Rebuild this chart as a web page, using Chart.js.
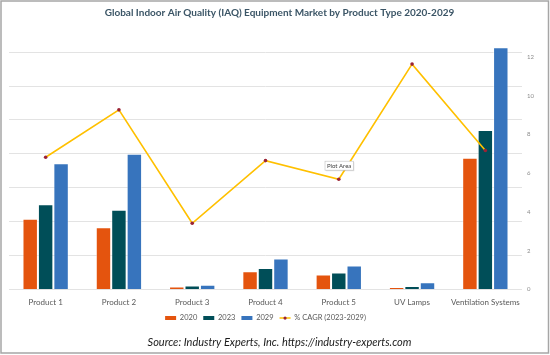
<!DOCTYPE html>
<html>
<head>
<meta charset="utf-8">
<script src="https://cdn.jsdelivr.net/npm/chart.js@4/dist/chart.umd.min.js"></script>
<style>
html,body{margin:0;padding:0;background:#fff;}
#wrap{width:550px;height:355px;position:relative;}
</style>
</head>
<body>
<div id="wrap"><canvas id="c" width="550" height="355"></canvas></div>
<script>
const categories = ["Product 1","Product 2","Product 3","Product 4","Product 5","UV Lamps","Ventilation Systems"];
const values2020 = [3.65, 3.2, 0.15, 0.93, 0.77, 0.12, 6.8];
const values2023 = [4.39, 4.11, 0.19, 1.1, 0.87, 0.17, 8.23];
const values2029 = [6.51, 7.0, 0.24, 1.59, 1.23, 0.36, 12.5];
const cagr = [7.8, 10.6, 3.9, 7.6, 6.5, 13.3, 8.2];
const rightTicks = [0, 2, 4, 6, 8, 10, 12];
const leftTicks = [0, 2, 4, 6, 8, 10, 12, 14];

const FONT = "Lato, 'Open Sans', sans-serif";

const framePlugin = {
  id: 'frame',
  beforeDraw(chart) {
    const ctx = chart.ctx;
    ctx.save();
    ctx.fillStyle = '#fff';
    ctx.fillRect(0, 0, chart.width, chart.height);
    ctx.restore();
  },
  afterDraw(chart) {
    const ctx = chart.ctx;
    ctx.save();
    ctx.strokeStyle = '#A6A6A6';
    ctx.lineWidth = 1.5;
    ctx.strokeRect(1, 1, chart.width - 2.5, chart.height - 3);
    // legend marker dot on the line item
    const lg = chart.legend;
    if (lg && lg.legendHitBoxes && lg.legendHitBoxes[3]) {
      const hb = lg.legendHitBoxes[3];
      const w = lg.options.labels.pointStyleWidth || 11;
      ctx.fillStyle = '#9B2335';
      ctx.beginPath();
      ctx.arc(hb.left + w / 2, hb.top + hb.height / 2, 1.6, 0, Math.PI * 2);
      ctx.fill();
    }
    // Excel "Plot Area" hover tag
    const ca = chart.chartArea;
    const tx = ca.left + (ca.right - ca.left) * 0.616, ty = ca.top + (ca.bottom - ca.top) * 0.494;
    ctx.font = "6px " + FONT;
    const tw = ctx.measureText('Plot Area').width + 4;
    ctx.fillStyle = 'rgba(0,0,0,0.12)';
    ctx.fillRect(tx + 1, ty - 4, tw, 9);
    ctx.fillStyle = '#fff';
    ctx.fillRect(tx, ty - 5, tw, 9);
    ctx.strokeStyle = '#BFBFBF';
    ctx.lineWidth = 0.6;
    ctx.strokeRect(tx, ty - 5, tw, 9);
    ctx.fillStyle = '#404040';
    ctx.textBaseline = 'middle';
    ctx.fillText('Plot Area', tx + 2, ty - 0.5);
    ctx.restore();
  }
};

new Chart(document.getElementById('c'), {
  type: 'bar',
  data: {
    labels: categories,
    datasets: [
      { label: '2020', data: values2020, backgroundColor: '#E4540E', borderColor: 'rgba(255,255,255,0.45)', borderWidth: 1, yAxisID: 'y1', order: 1 },
      { label: '2023', data: values2023, backgroundColor: '#004E58', borderColor: 'rgba(255,255,255,0.45)', borderWidth: 1, yAxisID: 'y1', order: 1 },
      { label: '2029', data: values2029, backgroundColor: '#3774BD', borderColor: 'rgba(255,255,255,0.45)', borderWidth: 1, yAxisID: 'y1', order: 1 },
      { type: 'line', label: '% CAGR (2023-2029)', data: cagr, borderColor: '#FFC000', backgroundColor: '#FFC000', borderWidth: 1.6,
        pointRadius: 1.8, pointBackgroundColor: '#9B2335', pointBorderColor: '#9B2335', pointBorderWidth: 0,
        pointStyle: 'circle', tension: 0, yAxisID: 'y', order: 0 }
    ]
  },
  options: {
    responsive: false,
    animation: false,
    devicePixelRatio: 1,
    datasets: { bar: { barPercentage: 1.0, categoryPercentage: 0.632 } },
    layout: { padding: { left: 9, right: 0, top: 0, bottom: 0 } },
    plugins: {
      tooltip: { enabled: false },
      title: {
        display: true,
        text: 'Global Indoor Air Quality (IAQ) Equipment Market by Product Type 2020-2029',
        color: '#3B5566',
        font: { family: FONT, size: 10, weight: 'bold' },
        padding: { top: 7, bottom: 27 }
      },
      legend: {
        display: true,
        position: 'bottom',
        fullSize: false,
        labels: {
          usePointStyle: true,
          pointStyleWidth: 11,
          boxHeight: 4,
          padding: 6,
          color: '#595959',
          font: { family: FONT, size: 7.5 },
          sort: (a, b) => a.datasetIndex - b.datasetIndex,
          generateLabels(chart) {
            const items = Chart.defaults.plugins.legend.labels.generateLabels(chart);
            items.forEach(it => {
              it.pointStyle = it.datasetIndex === 3 ? 'line' : 'rect';
              if (it.datasetIndex !== 3) { it.lineWidth = 0; it.strokeStyle = it.fillStyle; }
              else { it.lineWidth = 1.6; it.strokeStyle = '#FFC000'; }
            });
            return items;
          }
        }
      },
      subtitle: {
        display: true,
        position: 'bottom',
        text: 'Source: Industry Experts, Inc. https://industry-experts.com',
        color: '#1a1a1a',
        font: { family: FONT, size: 11, style: 'italic' },
        padding: { top: 4, bottom: 6 }
      }
    },
    scales: {
      x: {
        grid: { display: false },
        border: { display: false },
        ticks: { color: '#595959', font: { family: FONT, size: 8 }, padding: 0, maxRotation: 0 },
        afterFit(s) { s.height = 19; }
      },
      y: {
        position: 'left',
        min: 0,
        max: 14.37,
        afterBuildTicks(axis) { axis.ticks = leftTicks.map(v => ({ value: v })); },
        grid: { color: '#E3E3E3', lineWidth: 1, drawTicks: false },
        border: { display: false },
        ticks: { display: false },
        afterFit(s) { s.width = 0; }
      },
      y1: {
        position: 'right',
        min: 0,
        max: 12.57,
        afterBuildTicks(axis) { axis.ticks = rightTicks.map(v => ({ value: v })); },
        grid: { display: false, drawOnChartArea: false, drawTicks: false },
        border: { display: false },
        ticks: { color: '#8C8C8C', font: { family: FONT, size: 6 }, padding: 5 },
        afterFit(s) { s.width = 28; }
      }
    }
  },
  plugins: [framePlugin]
});
</script>
</body>
</html>
